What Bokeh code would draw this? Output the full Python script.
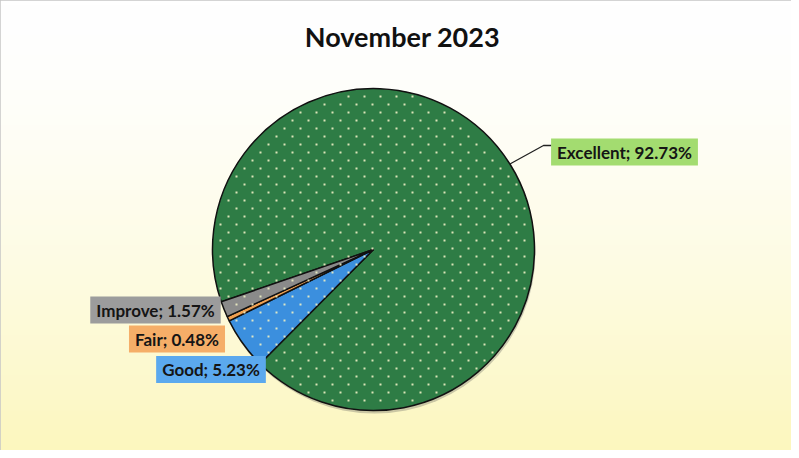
import numpy as np
from bokeh.plotting import figure
from bokeh.models import Range1d, Label, ColumnDataSource
from bokeh.embed import file_html
from bokeh.resources import INLINE

# ---------------- data ----------------
title_text = "November 2023"
categories = ["Excellent", "Good", "Fair", "Improve"]
percents = [92.73, 5.23, 0.48, 1.57]
slice_colors = ["#2e7c45", "#3b8fde", "#f0a050", "#8a8a8a"]
label_colors = ["#a3dc70", "#5ba9ee", "#f5ae68", "#9c9c9c"]

# ---------------- layout (screen px) ----------------
W, H = 791, 450
cx, cy, r = 381, 257, 161          # pie centre / radius
first_angle = 559.0                 # start angle (deg, anticlockwise from +x) of first slice
label_centers = {                   # centre of each label box
    "Excellent": (632, 159.5),
    "Good": (218.5, 377),
    "Fair": (184.5, 346.5),
    "Improve": (163, 317.5),
}
leader_elbow = (551, 153)
leader_end = (559, 153)
dot_dx, dot_dy = 16, 8              # spacing of the dotted fill texture

def Y(sy):
    return -sy

p = figure(width=W, height=H, x_range=Range1d(8, 8 + W), y_range=Range1d(-(8 + H), -8),
           output_backend="svg", toolbar_location=None,
           x_axis_location=None, y_axis_location=None, min_border=0)
p.grid.visible = False
p.outline_line_color = "#c6c6c6"
p.outline_line_width = 2
p.background_fill_color = "white"
p.border_fill_color = "white"

# background gradient (white top -> pale yellow bottom)
n = 90
t = np.linspace(0, 1, n)[:, None]          # row 0 = bottom
top = np.array([255, 255, 255])
bot = np.array([252, 247, 190])
mix = (1 - t) ** 1.6
rgb = top * (1 - mix) + bot * mix
img = np.empty((n, 1), dtype=np.uint32)
view = img.view(dtype=np.uint8).reshape((n, 1, 4))
view[:, 0, 0] = rgb[:, 0]
view[:, 0, 1] = rgb[:, 1]
view[:, 0, 2] = rgb[:, 2]
view[:, 0, 3] = 255
p.image_rgba(image=[img], x=8, y=-(8 + H), dw=W, dh=H)

# pie angles from percentages (clockwise)
pct = np.array(percents)
ends = first_angle - np.cumsum(pct) * 3.6
starts = np.concatenate([[first_angle], ends[:-1]])
src = ColumnDataSource(dict(cat=categories, start=starts, end=ends, color=slice_colors))

# soft shadow
p.circle(x=cx + 1, y=Y(cy) - 3, radius=r, fill_color="#555555", fill_alpha=0.3, line_color=None)

p.wedge(x=cx, y=Y(cy), radius=r, start_angle="start", end_angle="end",
        start_angle_units="deg", end_angle_units="deg", direction="clock",
        fill_color="color", line_color="#111111", line_width=1.5, source=src)

# dotted fill texture (staggered small dots over the whole pie)
gx, gy = [], []
for j, yy in enumerate(np.arange(cy - r, cy + r, dot_dy)):
    off = (dot_dx / 2) * (j % 2)
    for xx in np.arange(cx - r + off, cx + r, dot_dx):
        if (xx - cx) ** 2 + (yy - cy) ** 2 < (r - 3) ** 2:
            gx.append(xx)
            gy.append(Y(yy))
p.scatter(x=gx, y=gy, marker="square", size=2, fill_color="#eef0c4", line_color=None, fill_alpha=0.9)

# leader line for Excellent
mid = np.deg2rad((starts[0] + ends[0]) / 2)
x0 = cx + r * np.cos(mid)
y0 = Y(cy) + r * np.sin(mid)
p.line(x=[x0, leader_elbow[0], leader_end[0]], y=[y0, Y(leader_elbow[1]), Y(leader_end[1])],
       line_color="#222222", line_width=1.3)

# labels
for cat, val, col in zip(categories, percents, label_colors):
    lx, ly = label_centers[cat]
    p.add_layout(Label(x=lx, y=Y(ly), text=f"{cat}; {val:.2f}%",
                       text_font="Lato", text_font_style="bold", text_font_size="17px",
                       text_color="#151515", text_align="center", text_baseline="middle",
                       background_fill_color=col, padding=dict(x=6, y=3)))

p.add_layout(Label(x=410, y=Y(44), text=title_text, text_font="Lato", text_font_style="bold",
                   text_font_size="27px", text_color="#111111",
                   text_align="center", text_baseline="middle"))

open("out.html", "w").write(file_html(p, INLINE))
